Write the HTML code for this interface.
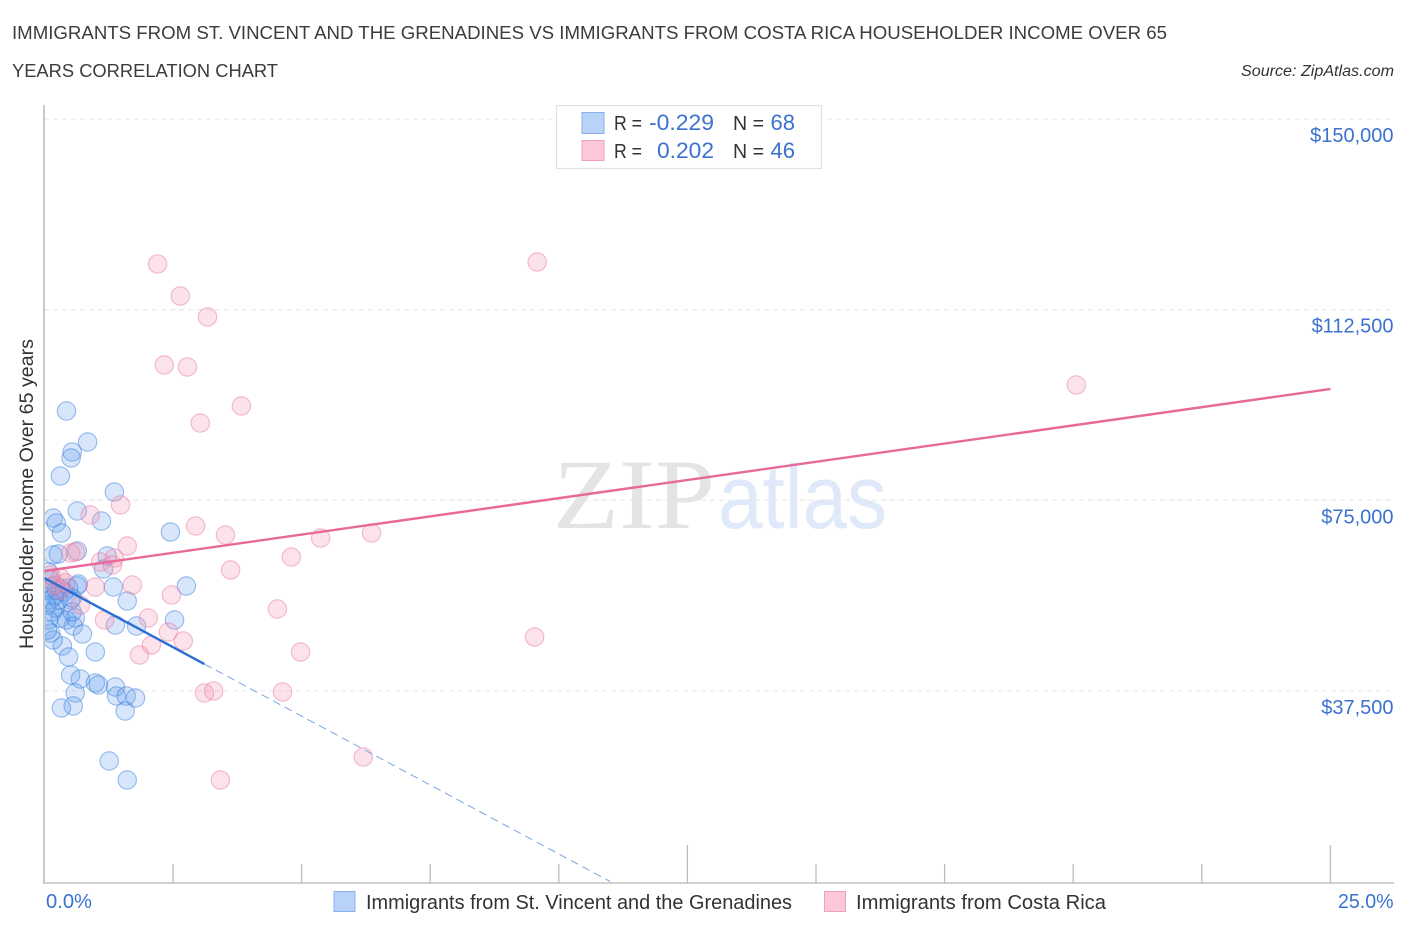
<!DOCTYPE html>
<html lang="en">
<head>
<meta charset="utf-8">
<title>Householder Income Over 65 Years Correlation Chart</title>
<style>
html,body{margin:0;padding:0;background:#fff;width:1406px;height:930px;overflow:hidden}
svg{display:block;font-family:"Liberation Sans",sans-serif}
</style>
</head>
<body>
<svg id="chart" width="1406" height="930" viewBox="0 0 1406 930">
  <defs><clipPath id="plot-clip"><rect x="45" y="100" width="1350" height="783"/></clipPath></defs>
  <text x="12" y="39" font-size="18.5" fill="#3c3c3c" textLength="1155" lengthAdjust="spacingAndGlyphs">IMMIGRANTS FROM ST. VINCENT AND THE GRENADINES VS IMMIGRANTS FROM COSTA RICA HOUSEHOLDER INCOME OVER 65</text>
  <text x="12" y="77" font-size="18.5" fill="#3c3c3c" textLength="266" lengthAdjust="spacingAndGlyphs">YEARS CORRELATION CHART</text>
  <text x="1241" y="76" font-size="15.5" font-style="italic" fill="#333" textLength="153" lengthAdjust="spacingAndGlyphs">Source: ZipAtlas.com</text>

  <g>
    <text x="553" y="528" font-family="'Liberation Serif',serif" font-size="100" fill="#e4e4e4" textLength="162" lengthAdjust="spacingAndGlyphs">ZIP</text>
    <text x="718" y="528" font-size="90" fill="#dfe9f9" textLength="169" lengthAdjust="spacingAndGlyphs">atlas</text>
  </g>

  <g id="grid"></g>
  <g id="blue-points" clip-path="url(#plot-clip)"></g>
  <g id="pink-points" clip-path="url(#plot-clip)"></g>
  <g id="trends"></g>
  <g id="axes"></g>
  <g id="ytick-labels"></g>

  <text transform="translate(33,494) rotate(-90)" text-anchor="middle" font-size="19" fill="#333" textLength="310" lengthAdjust="spacingAndGlyphs">Householder Income Over 65 years</text>

  <text x="46" y="908" font-size="20" fill="#3b72d0" textLength="46" lengthAdjust="spacingAndGlyphs">0.0%</text>
  <text x="1338" y="908" font-size="20" fill="#3b72d0" textLength="55.5" lengthAdjust="spacingAndGlyphs">25.0%</text>

  <g>
    <rect x="556.5" y="105.5" width="265" height="63" fill="#fff" stroke="#e2e2e2" stroke-width="1.2"/>
    <rect x="582" y="112.500" width="22" height="21" fill="#b9d3f8" stroke="#85b0ea" stroke-width="1"/>
    <rect x="582" y="140.500" width="22" height="20" fill="#fcc8d8" stroke="#f0a0bc" stroke-width="1"/>
    <text x="614" y="130" font-size="20" fill="#333" textLength="28" lengthAdjust="spacingAndGlyphs">R =</text>
    <text x="649" y="130" font-size="22" fill="#3b72d0" textLength="65" lengthAdjust="spacingAndGlyphs">-0.229</text>
    <text x="733" y="130" font-size="20" fill="#333" textLength="31" lengthAdjust="spacingAndGlyphs">N =</text>
    <text x="795" y="130" text-anchor="end" font-size="22" fill="#3b72d0">68</text>
    <text x="614" y="158" font-size="20" fill="#333" textLength="28" lengthAdjust="spacingAndGlyphs">R =</text>
    <text x="657" y="158" font-size="22" fill="#3b72d0" textLength="57" lengthAdjust="spacingAndGlyphs">0.202</text>
    <text x="733" y="158" font-size="20" fill="#333" textLength="31" lengthAdjust="spacingAndGlyphs">N =</text>
    <text x="795" y="158" text-anchor="end" font-size="22" fill="#3b72d0">46</text>
  </g>

  <g>
    <rect x="334" y="891.500" width="21" height="20" fill="#b9d3f8" stroke="#85b0ea" stroke-width="1"/>
    <text x="366" y="909" font-size="20" fill="#333" textLength="426" lengthAdjust="spacingAndGlyphs">Immigrants from St. Vincent and the Grenadines</text>
    <rect x="824.500" y="891.500" width="21" height="20" fill="#fcc8d8" stroke="#f0a0bc" stroke-width="1"/>
    <text x="856" y="909" font-size="20" fill="#333" textLength="250" lengthAdjust="spacingAndGlyphs">Immigrants from Costa Rica</text>
  </g>
</svg>
<script>
const blueX = [0.43,0.84,0.54,0.52,0.31,1.36,0.64,1.11,0.17,0.23,0.33,2.45,0.17,0.27,1.22,1.15,0.64,2.76,1.34,1.61,0.66,0.64,2.53,1.79,1.38,0.60,0.56,0.74,0.99,0.35,0.47,0.51,0.70,0.99,1.05,1.38,1.40,1.59,1.77,1.57,0.60,0.56,0.33,1.26,1.61,0.08,0.12,0.17,0.23,0.31,0.39,0.47,0.51,0.19,0.27,0.12,0.21,0.16,0.31,0.43,0.54,0.08,0.12,0.17,0.06,0.54,0.04,0.04];
const blueY = [92570,86470,84500,83320,79780,76630,72900,70930,71520,70530,68570,68760,64240,64440,64040,61480,65030,58140,57940,55190,58530,58140,51450,50270,50470,51840,50270,48700,45150,46330,44170,40630,39840,39050,38660,38270,36500,36500,36100,33550,37090,34530,34140,23710,19970,60890,59320,58140,57350,57750,56960,57750,55390,56170,55390,55390,53810,53020,51840,51450,53020,51450,48890,47510,49480,55780,57350,54400];
const pinkX = [2.20,9.58,2.64,3.17,2.33,2.78,20.06,3.83,3.03,0.89,1.48,2.94,3.52,5.37,6.36,1.61,4.80,3.62,0.51,0.60,1.36,1.09,1.32,0.31,1.71,0.99,2.47,4.53,0.70,2.02,1.17,2.41,2.70,2.08,1.85,4.98,9.53,3.11,3.29,4.63,6.20,3.42,0.31,0.21,0.12,0.41];
const pinkY = [121500,121890,115200,111070,101620,101230,97690,93550,90210,72110,74080,69950,68170,67590,68570,66010,63850,61290,64630,64830,63650,62860,62270,59710,58340,57940,56370,53610,54400,51840,51450,49090,47320,46530,44560,45150,48110,37090,37480,37280,24500,19970,57350,58340,60300,58730];
const yTickValues = [37500,75000,112500,150000];
const yTickLabels = ["$37,500","$75,000","$112,500","$150,000"];
const xTickValues = [0,2.5,5,7.5,10,12.5,15,17.5,20,22.5,25];
const xMajorTicks = [12.5,25];
const blueTrendX = [0,3.11,11];
const blueTrendY = [59710,42790,0];
const pinkTrendX = [0,25];
const pinkTrendY = [61090,96900];

const NS = "http://www.w3.org/2000/svg";
const X0 = 44.4, XPX_PER_PCT = 51.44, Y0 = 881.5, YPX_PER_USD = 190.6 / 37500;
function xScale(v){ return X0 + v * XPX_PER_PCT; }
function yScale(v){ return Y0 - v * YPX_PER_USD; }
function make(tag, attrs, parent){
  const el = document.createElementNS(NS, tag);
  for (const k in attrs) el.setAttribute(k, attrs[k]);
  parent.appendChild(el);
  return el;
}

const grid = document.getElementById("grid");
yTickValues.forEach(function(v){
  const line = make("line", {x1:44, x2:1394, y1:yScale(v), y2:yScale(v), stroke:"#e6e6e6", "stroke-width":1, "stroke-dasharray":"5 4"}, grid);
  
  
});

function drawPoints(groupId, xs, ys, fill, stroke, name){
  const g = document.getElementById(groupId);
  xs.forEach(function(x, i){
    const c = make("circle", {cx:xScale(x), cy:yScale(ys[i]), r:9.2, fill:fill, stroke:stroke, "stroke-width":1.1}, g);
    
    
  });
}
drawPoints("blue-points", blueX, blueY, "rgba(100,160,240,0.26)", "rgba(55,125,220,0.50)", "st-vincent-point");
drawPoints("pink-points", pinkX, pinkY, "rgba(245,150,180,0.28)", "rgba(232,115,155,0.48)", "costa-rica-point");

const trends = document.getElementById("trends");
const blueSolid = make("line", {x1:xScale(blueTrendX[0]), y1:yScale(blueTrendY[0]), x2:xScale(blueTrendX[1]), y2:yScale(blueTrendY[1]), stroke:"#2b6fd3", "stroke-width":2.4}, trends);


const blueDash = make("line", {x1:xScale(blueTrendX[1]), y1:yScale(blueTrendY[1]), x2:xScale(blueTrendX[2]), y2:yScale(blueTrendY[2]), stroke:"#7ba6e2", "stroke-width":1, "stroke-dasharray":"8 5"}, trends);


const pinkLine = make("line", {x1:xScale(pinkTrendX[0]), y1:yScale(pinkTrendY[0]), x2:xScale(pinkTrendX[1]), y2:yScale(pinkTrendY[1]), stroke:"#e8689a", "stroke-width":2.4}, trends);



const axes = document.getElementById("axes");
const yAxis = make("line", {x1:44, x2:44, y1:105, y2:884, stroke:"#b4b4b4", "stroke-width":1.4}, axes);


const xAxis = make("line", {x1:44, x2:1394, y1:883, y2:883, stroke:"#c4c4c4", "stroke-width":1.4}, axes);


xTickValues.forEach(function(v){
  if (v === 0) return;
  const top = xMajorTicks.indexOf(v) >= 0 ? 845 : 864;
  const t = make("line", {x1:xScale(v), x2:xScale(v), y1:top, y2:883, stroke:"#bdbdbd", "stroke-width":1.3}, axes);
  
  
});

const yLabels = document.getElementById("ytick-labels");
yTickValues.forEach(function(v, i){
  const t = make("text", {x:1393.5, y:yScale(v) + 23, "text-anchor":"end", "font-size":20, fill:"#3b72d0"}, yLabels);
  t.textContent = yTickLabels[i];
  
  
});
</script>
</body>
</html>
